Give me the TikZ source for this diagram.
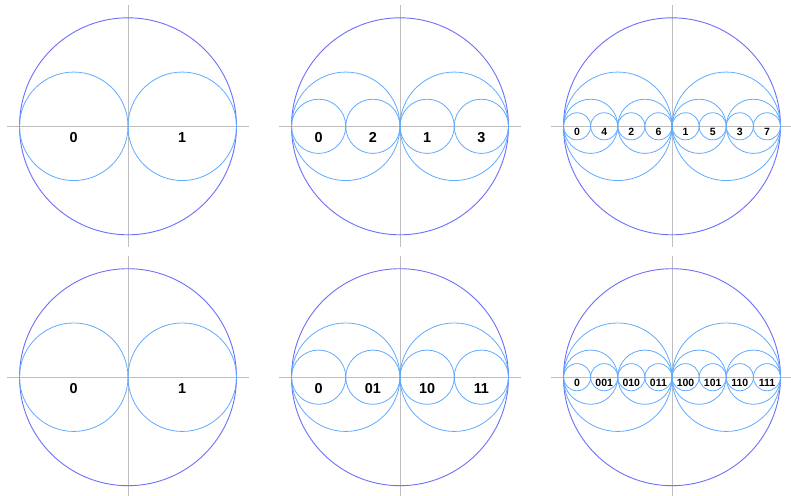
\documentclass[tikz,border=0pt]{standalone}
\usepackage{fontspec}
\setmainfont{Liberation Sans}
\usetikzlibrary{calc}
\definecolor{bigc}{RGB}{110,110,250}
\definecolor{smallc}{RGB}{95,170,255}
\definecolor{axisc}{RGB}{190,190,190}
\tikzset{
  axisline/.style={draw=axisc,line width=0.8pt},
  bigcircle/.style={draw=bigc,line width=0.9pt},
  subcircle/.style={draw=smallc,line width=0.8pt},
  biglabel/.style={font=\fontsize{14.4}{16}\selectfont\bfseries,inner sep=0pt},
  smalllabel/.style={font=\fontsize{10.5}{12}\selectfont\bfseries,inner sep=0pt},
}
\begin{document}
\begin{tikzpicture}[x=1pt,y=-1pt]
\useasboundingbox (0,0) rectangle (791,495);
\def\R{108.5}
\def\A{121}
% panel centres
\foreach \cx/\cy/\p in {128/126.3/a,400/126.3/b,672/126.3/c,128/377.2/d,400/377.2/e,672/377.2/f}{
  \coordinate (o\p) at (\cx,\cy);
  \draw[axisline] (\cx-\A,\cy) -- (\cx+\A,\cy);
  \draw[axisline] (\cx,\cy-\A) -- (\cx,\cy+\A);
  \draw[bigcircle] (\cx,\cy) circle[radius=\R];
}
% level 1 circles everywhere
\foreach \p in {a,b,c,d,e,f}{
  \foreach \k in {-1,1}{
    \draw[subcircle] ($(o\p)+(\k*\R/2,0)$) circle[radius=\R/2];
  }
}
% level 2 circles
\foreach \p in {b,c,e,f}{
  \foreach \k in {-3,-1,1,3}{
    \draw[subcircle] ($(o\p)+(\k*\R/4,0)$) circle[radius=\R/4];
  }
}
% level 3 circles
\foreach \p in {c,f}{
  \foreach \k in {-7,-5,-3,-1,1,3,5,7}{
    \draw[subcircle] ($(o\p)+(\k*\R/8,0)$) circle[radius=\R/8];
  }
}
% labels panel a / d
\foreach \p in {a,d}{
  \node[biglabel] (\p0) at ($(o\p)+(-\R/2,11)$) {0};
  \node[biglabel] (\p1) at ($(o\p)+(\R/2,11)$) {1};
}
% labels panel b
\foreach \k/\t/\n in {-3/0/1,-1/2/2,1/1/3,3/3/4}{
  \node[biglabel] (b\n) at ($(ob)+(\k*\R/4,11)$) {\t};
}
% labels panel e
\foreach \k/\t/\n in {-3/0/1,-1/01/2,1/10/3,3/11/4}{
  \node[biglabel] (e\n) at ($(oe)+(\k*\R/4,11)$) {\t};
}
% labels panel c
\foreach \k/\t/\n in {-7/0/1,-5/4/2,-3/2/3,-1/6/4,1/1/5,3/5/6,5/3/7,7/7/8}{
  \node[smalllabel] (c\n) at ($(oc)+(\k*\R/8,6)$) {\t};
}
% labels panel f
\foreach \k/\t/\n in {-7/0/1,-5/001/2,-3/010/3,-1/011/4,1/100/5,3/101/6,5/110/7,7/111/8}{
  \node[smalllabel] (f\n) at ($(of)+(\k*\R/8,6)$) {\t};
}
\end{tikzpicture}
\end{document}
